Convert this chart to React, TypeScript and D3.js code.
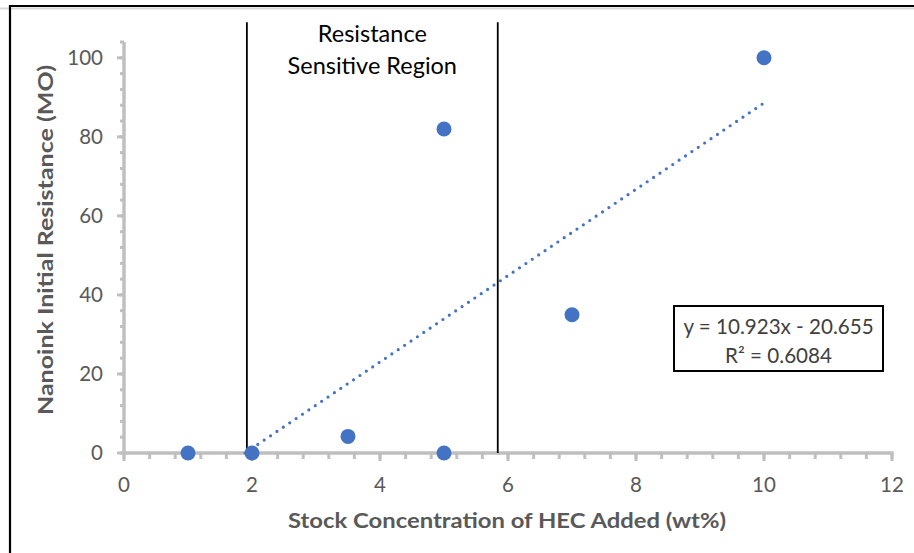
import React from "react";
import * as d3 from "d3";

const xValues = [1, 2, 3.5, 5, 5, 7, 10];
const yValues = [0, 0, 4.2, 82, 0, 35, 100];
const xTicks = [0, 2, 4, 6, 8, 10, 12];
const yTicks = [0, 20, 40, 60, 80, 100];
const regionBounds = [1.92, 5.84];
const regionLabel = ["Resistance", "Sensitive Region"];
const trendSlope = 10.923;
const trendIntercept = -20.655;
const equationLines = ["y = 10.923x - 20.655", "R² = 0.6084"];
const xTitle = "Stock Concentration of HEC Added (wt%)";
const yTitle = "Nanoink Initial Resistance (MO)";

const W = 914;
const H = 553;
const FONT = "Lato, 'Open Sans', sans-serif";
const AXIS = "#BFBFBF";
const TXT = "#595959";
const BLUE = "#4472C4";

export default function App() {
  const x = d3.scaleLinear().domain([0, 12]).range([124, 892]);
  const y = d3.scaleLinear().domain([0, 104]).range([453, 42]);

  const xMinor = d3.range(0, 12.0001, 0.4);
  const yMinor = d3.range(0, 104.0001, 4);

  const xMin = d3.min(xValues) as number;
  const xMax = d3.max(xValues) as number;
  const xStart = Math.max(xMin, -trendIntercept / trendSlope);
  const trendPts: [number, number][] = [
    [xStart, trendSlope * xStart + trendIntercept],
    [xMax, trendSlope * xMax + trendIntercept],
  ];
  const line = d3
    .line<[number, number]>()
    .x((d) => x(d[0]))
    .y((d) => y(d[1]));

  const regionTop = 109;
  const regionMid = (regionBounds[0] + regionBounds[1]) / 2;

  return (
    <svg
      width={W}
      height={H}
      style={{ position: "absolute", left: 0, top: 0, background: "#fff" }}
      fontFamily={FONT}
    >
      <rect x={0} y={0} width={W} height={H} fill="#fff" />
      {/* outer frame */}
      <line x1={0} x2={W} y1={8.5} y2={8.5} stroke="#D9D9D9" strokeWidth={2} />
      <line x1={10} x2={W} y1={6} y2={6} stroke="#000" strokeWidth={2.2} />
      <line x1={10} x2={10} y1={5} y2={H} stroke="#000" strokeWidth={2.2} />

      {/* y axis */}
      {yMinor.map((v) => (
        <line key={"ym" + v} x1={120} x2={124} y1={y(v)} y2={y(v)} stroke={AXIS} strokeWidth={3} />
      ))}
      {yTicks.map((v) => (
        <line key={"yM" + v} x1={117} x2={124} y1={y(v)} y2={y(v)} stroke={AXIS} strokeWidth={3} />
      ))}
      <line x1={124} x2={124} y1={y(104)} y2={y(0) + 1.5} stroke={AXIS} strokeWidth={3.5} />
      {yTicks.map((v) => (
        <text key={"yl" + v} x={103} y={y(v)} dy="0.35em" textAnchor="end" fontSize={20.5} fill={TXT}>
          {v}
        </text>
      ))}

      {/* x axis */}
      {xMinor.map((v) => (
        <line key={"xm" + v} x1={x(v)} x2={x(v)} y1={453} y2={459} stroke={AXIS} strokeWidth={3} />
      ))}
      {xTicks.map((v) => (
        <text key={"xl" + v} x={x(v)} y={492} textAnchor="middle" fontSize={20.5} fill={TXT}>
          {v}
        </text>
      ))}
      {xTicks.map((v) => (
        <line key={"xM" + v} x1={x(v)} x2={x(v)} y1={453} y2={461} stroke={AXIS} strokeWidth={3} />
      ))}
      <line x1={x(0) - 1.5} x2={x(12) + 1.5} y1={453} y2={453} stroke={AXIS} strokeWidth={3.5} />

      {/* axis titles */}
      <text
        x={507}
        y={528}
        textAnchor="middle"
        fontSize={21.5}
        fontWeight="bold"
        fill={TXT}
        textLength={438}
        lengthAdjust="spacingAndGlyphs"
      >
        {xTitle}
      </text>
      <text
        transform={`translate(53,240) rotate(-90)`}
        textAnchor="middle"
        fontSize={21.5}
        fontWeight="bold"
        fill={TXT}
        textLength={350}
        lengthAdjust="spacingAndGlyphs"
      >
        {yTitle}
      </text>

      {/* region lines */}
      {regionBounds.map((b) => (
        <line key={"rb" + b} x1={x(b)} x2={x(b)} y1={y(regionTop)} y2={y(0)} stroke="#000" strokeWidth={1.8} />
      ))}
      <text x={x(regionMid)} y={42} textAnchor="middle" fontSize={23.5} fill="#000">
        {regionLabel[0]}
      </text>
      <text x={x(regionMid)} y={74} textAnchor="middle" fontSize={23.5} fill="#000">
        {regionLabel[1]}
      </text>

      {/* trendline */}
      <path
        d={line(trendPts) || ""}
        fill="none"
        stroke={BLUE}
        strokeWidth={3.2}
        strokeLinecap="round"
        strokeDasharray="0 7.7"
      />

      {/* points */}
      {xValues.map((xv, i) => (
        <circle key={"p" + i} cx={x(xv)} cy={y(yValues[i])} r={7.5} fill={BLUE} />
      ))}

      {/* equation box */}
      <rect x={674} y={306} width={209} height={65} fill="#fff" stroke="#000" strokeWidth={2} />
      <text x={778.5} y={334} textAnchor="middle" fontSize={20.6} fill="#404040">
        {equationLines[0]}
      </text>
      <text x={778.5} y={363} textAnchor="middle" fontSize={20.6} fill="#404040">
        {equationLines[1]}
      </text>
    </svg>
  );
}
